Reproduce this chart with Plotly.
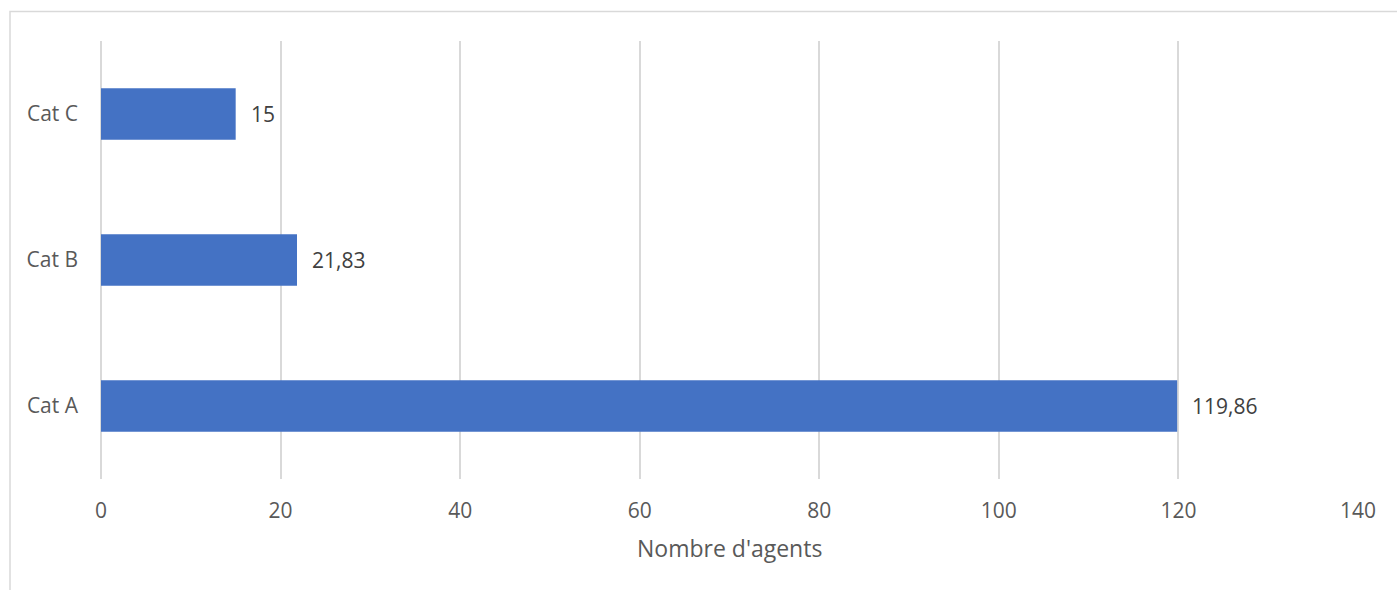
import plotly.graph_objects as go

categories = ["Cat A", "Cat B", "Cat C"]
values = [119.86, 21.83, 15]
labels = ["119,86", "21,83", "15"]
x_ticks = [0, 20, 40, 60, 80, 100, 120, 140]

FONT = "Open Sans"
fig = go.Figure()
fig.add_trace(go.Bar(
    y=categories, x=values, orientation="h",
    marker=dict(color="#4472C4", line=dict(width=0)),
    hoverinfo="x+y",
))

for c, v, t in zip(categories, values, labels):
    fig.add_annotation(x=v, y=c, xref="x", yref="y", text=t, showarrow=False,
                       xanchor="left", yanchor="middle", xshift=13,
                       font=dict(family=FONT, size=21, color="#404040"))

fig.add_annotation(x=0.5, y=-0.1575, xref="paper", yref="paper", text="Nombre d'agents",
                   showarrow=False, xanchor="center", yanchor="middle",
                   font=dict(family=FONT, size=23, color="#595959"))

# outer chart border
fig.add_shape(type="rect", xref="paper", yref="paper",
              x0=(10 - 101) / 1257, x1=(1405 - 101) / 1257,
              y0=(479 - 610) / 438, y1=(479 - 11.5) / 438,
              line=dict(color="#D9D9D9", width=1.5), fillcolor="rgba(0,0,0,0)", layer="below")

fig.update_layout(
    width=1397, height=590,
    margin=dict(l=101, r=39, t=41, b=111),
    paper_bgcolor="white", plot_bgcolor="white",
    bargap=0.647, showlegend=False,
    font=dict(family=FONT, color="#595959"),
    xaxis=dict(range=[0, 140], tickvals=x_ticks, showgrid=True, gridcolor="#D9D9D9", gridwidth=1.5,
               zeroline=True, zerolinecolor="#D9D9D9", zerolinewidth=1.5,
               showline=False, ticks="", ticklabelstandoff=17,
               tickfont=dict(family=FONT, size=21, color="#595959")),
    yaxis=dict(categoryorder="array", categoryarray=categories, showgrid=False, zeroline=False,
               showline=False, ticks="", ticklabelstandoff=22,
               tickfont=dict(family=FONT, size=21, color="#595959")),
)

fig.write_html("out.html")
